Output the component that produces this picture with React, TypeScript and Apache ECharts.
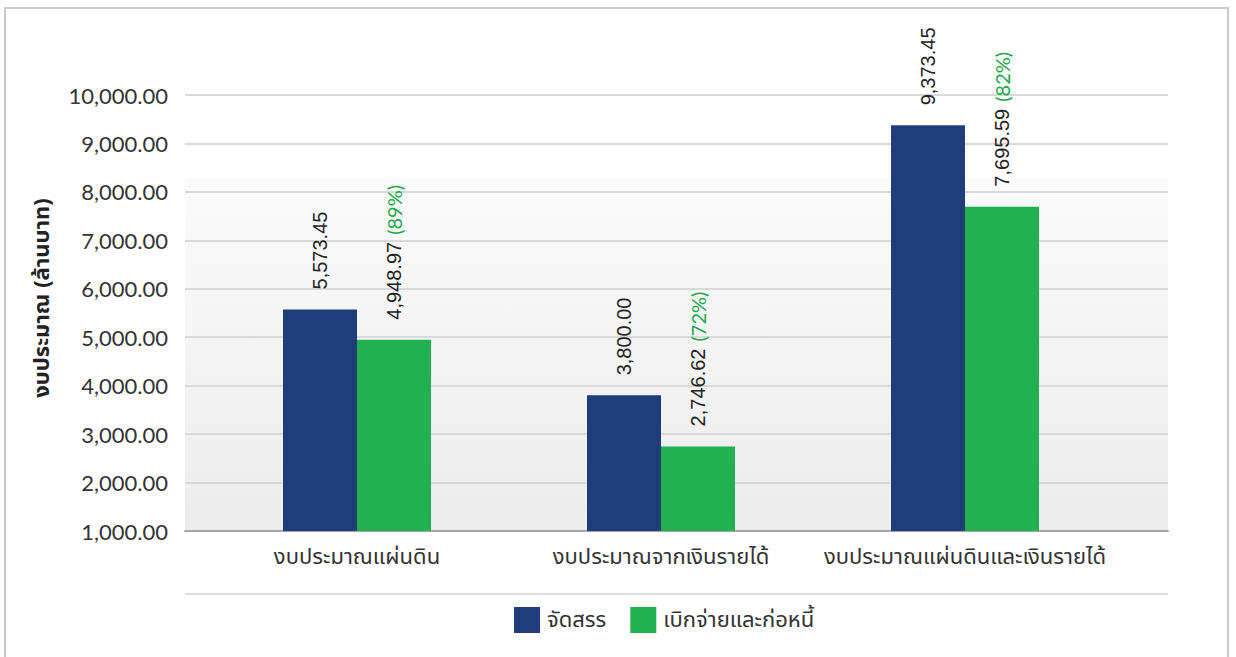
import React, { useEffect, useRef } from "react";
import * as echarts from "echarts";

const categories = [
  "งบประมาณแผ่นดิน",
  "งบประมาณจากเงินรายได้",
  "งบประมาณแผ่นดินและเงินรายได้",
];
const allocated = [5573.45, 3800.0, 9373.45];
const disbursed = [4948.97, 2746.62, 7695.59];
const disbursedPercent = [89, 72, 82];
const seriesNames = ["จัดสรร", "เบิกจ่ายและก่อหนี้"];
const yAxisTitle = "งบประมาณ (ล้านบาท)";
const yMin = 1000;
const yMax = 10000;
const yStep = 1000;

const BLUE = "#1f3d7a";
const GREEN = "#21b14f";
const GREEN_TEXT = "#1fa84a";
const THAI = "'Noto Sans Thai', 'Tahoma', 'Noto Sans', 'DejaVu Sans', sans-serif";

const fmt = (v: number) =>
  v.toLocaleString("en-US", { minimumFractionDigits: 2, maximumFractionDigits: 2 });

export default function App() {
  const ref = useRef<HTMLDivElement>(null);
  useEffect(() => {
    if (!ref.current) return;
    const chart = echarts.init(ref.current, undefined, { renderer: "svg" });
    const top = 95;
    const height = 436;
    chart.setOption({
      animation: false,
      backgroundColor: "#ffffff",
      grid: [
        { left: 205, width: 912, top, height, containLabel: false },
        {
          left: 185,
          width: 983,
          top,
          height,
          show: true,
          borderWidth: 0,
          backgroundColor: new echarts.graphic.LinearGradient(0, 0, 0, 1, [
            { offset: 0, color: "#ffffff" },
            { offset: 0.19, color: "#ffffff" },
            { offset: 0.191, color: "#fbfbfb" },
            { offset: 1, color: "#ececec" },
          ]),
        },
      ],
      xAxis: [
        {
          type: "category",
          gridIndex: 0,
          data: categories,
          axisLine: { show: false },
          axisTick: { show: false },
          axisLabel: {
            interval: 0,
            fontSize: 22,
            color: "#333",
            fontFamily: THAI,
            margin: 15,
          },
        },
        {
          type: "category",
          gridIndex: 1,
          data: categories,
          axisLine: { show: true, lineStyle: { color: "#a6a6a6", width: 2 } },
          axisTick: { show: false },
          axisLabel: { show: false },
        },
      ],
      yAxis: [
        { type: "value", gridIndex: 0, min: yMin, max: yMax, interval: yStep, show: false },
        {
          type: "value",
          gridIndex: 1,
          min: yMin,
          max: yMax,
          interval: yStep,
          axisLine: { show: false },
          axisTick: { show: false },
          axisLabel: {
            fontSize: 22,
            color: "#333",
            fontFamily: "Lato, sans-serif",
            margin: 17,
            formatter: (v: number) => fmt(v),
          },
          splitLine: { lineStyle: { color: "#d9d9d9", width: 2 } },
        },
      ],
      legend: {
        left: 514,
        top: 607,
        itemWidth: 26,
        itemHeight: 26,
        itemGap: 24,
        padding: 0,
        icon: "rect",
        textStyle: { fontSize: 22, color: "#333", fontFamily: THAI, padding: [0, 0, 0, 2] },
        data: seriesNames,
      },
      graphic: [
        {
          type: "rect",
          shape: { x: 5, y: 8, width: 1223, height: 680 },
          style: { fill: "none", stroke: "#c8c8c8", lineWidth: 2 },
          silent: true,
        },
        {
          type: "line",
          shape: { x1: 185, y1: 594, x2: 1168, y2: 594 },
          style: { stroke: "#dcdcdc", lineWidth: 2 },
          silent: true,
        },
        {
          type: "text",
          x: 42,
          y: 298,
          rotation: Math.PI / 2,
          style: {
            text: yAxisTitle,
            fontSize: 22,
            fontWeight: "bold",
            fill: "#222",
            fontFamily: THAI,
            align: "center",
            verticalAlign: "middle",
          },
        },
      ],
      series: [
        {
          name: seriesNames[0],
          type: "bar",
          xAxisIndex: 0,
          yAxisIndex: 0,
          data: allocated,
          barWidth: 74,
          barGap: "0%",
          itemStyle: { color: BLUE },
          label: {
            show: true,
            position: "top",
            distance: 20,
            rotate: 90,
            align: "left",
            verticalAlign: "middle",
            fontSize: 20,
            color: "#222",
            fontFamily: "'Liberation Sans', Arial, sans-serif",
            formatter: (p: any) => fmt(p.value),
          },
        },
        {
          name: seriesNames[1],
          type: "bar",
          xAxisIndex: 0,
          yAxisIndex: 0,
          data: disbursed,
          barWidth: 74,
          barGap: "0%",
          itemStyle: { color: GREEN },
          label: {
            show: true,
            position: "top",
            distance: 20,
            rotate: 90,
            align: "left",
            verticalAlign: "middle",
            formatter: (p: any) =>
              `{v|${fmt(p.value)}}{p|(${disbursedPercent[p.dataIndex]}%)}`,
            rich: {
              v: {
                fontSize: 20,
                color: "#222",
                fontFamily: "'Liberation Sans', Arial, sans-serif",
              },
              p: {
                fontSize: 20,
                color: GREEN_TEXT,
                fontFamily: "Lato, sans-serif",
                padding: [0, 0, 0, 7],
              },
            },
          },
        },
      ],
    });
    return () => chart.dispose();
  }, []);
  return (
    <div
      ref={ref}
      style={{ position: "fixed", left: 0, top: 0, width: 1236, height: 657 }}
    />
  );
}
